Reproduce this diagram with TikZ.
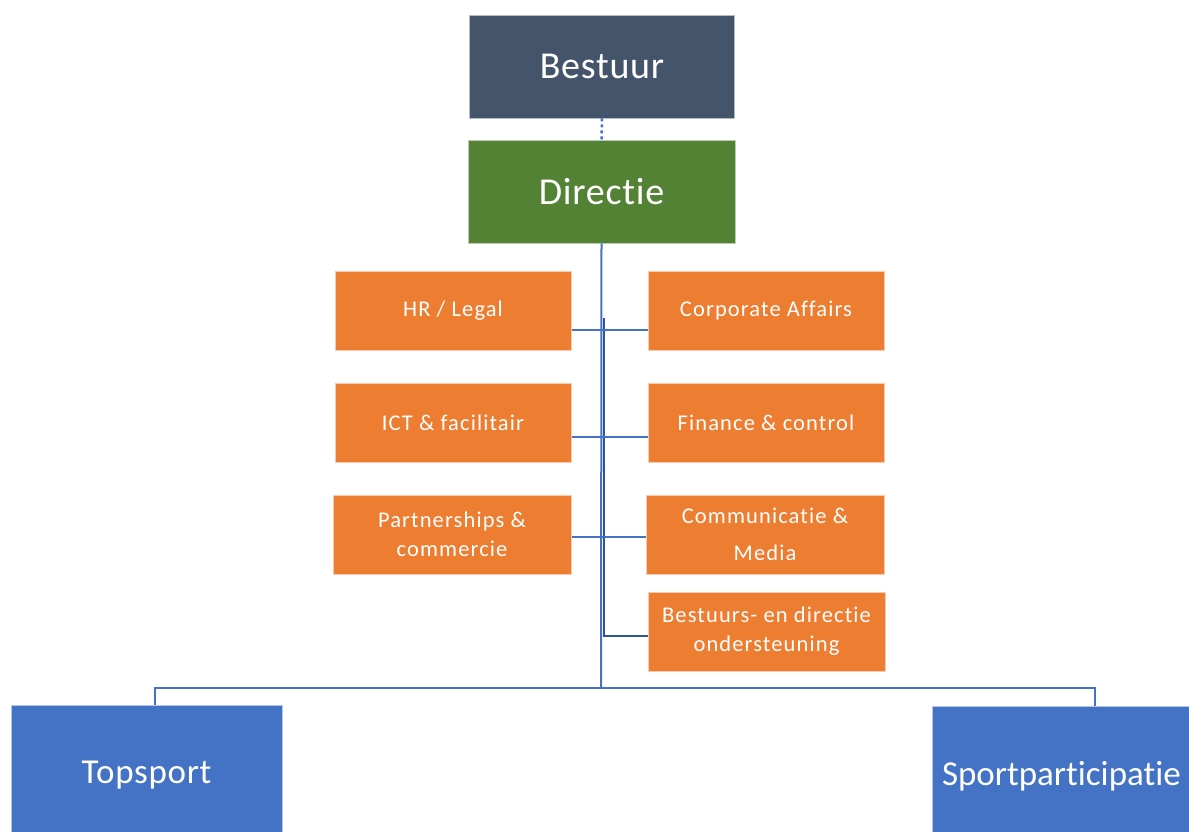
\documentclass[tikz,border=0pt]{standalone}
\usepackage{fontspec}
\setmainfont[Ligatures=NoCommon]{Carlito}
\newfontfamily\wide[Ligatures=NoCommon,LetterSpace=5]{Carlito}
\newfontfamily\widebig[Ligatures=NoCommon,LetterSpace=2]{Carlito}
\usetikzlibrary{calc}
\definecolor{slate}{HTML}{44546A}
\definecolor{grn}{HTML}{548235}
\definecolor{org}{HTML}{ED7D31}
\definecolor{blu}{HTML}{4472C4}
\definecolor{dblu}{HTML}{2F5597}
\definecolor{lne}{HTML}{4472C4}
\tikzset{
  box/.style={rectangle, draw=white!60!#1, line width=0.6pt, fill=#1, text=white, inner sep=0pt, align=center},
  topbox/.style={box=#1, minimum width=265pt, minimum height=103pt, font=\widebig\fontsize{38}{44}\selectfont},
  obox/.style={box=org, minimum width=236pt, minimum height=79pt, font=\wide\fontsize{22.5}{33}\selectfont},
  bbox/.style={box=blu, minimum height=140pt, font=\widebig\fontsize{35}{40}\selectfont},
  conn/.style={draw=lne, line width=1.3pt},
}
\begin{document}
\begin{tikzpicture}[x=1pt,y=-1pt]
\useasboundingbox (0,0) rectangle (1189,832);
\clip (0,0) rectangle (1189,832);
\node[topbox=slate] (bestuur) at (602,66.5) {Bestuur};
\node[topbox=grn, minimum width=267pt] (directie) at (601.5,191.5) {Directie};

\node[obox] (hr) at (453,310.5) {HR / Legal};
\node[obox] (ict) at (453,422.5) {ICT \& facilitair};
\node[obox, minimum width=238pt, font=\wide\fontsize{22.5}{29}\selectfont] (part) at (452,534.5) {Partnerships \&\\commercie};
\node[obox] (corp) at (766,310.5) {Corporate Affairs};
\node[obox] (fin) at (766,422.5) {Finance \& control};
\node[obox, minimum width=238pt, font=\wide\fontsize{22.5}{37}\selectfont] (comm) at (765,534.5) {Communicatie \&\\Media};
\node[obox, minimum width=237pt, font=\wide\fontsize{22.5}{29}\selectfont] (onder) at (766.5,631.5) {Bestuurs- en directie\\ondersteuning};

\node[bbox, minimum width=271pt] (top) at (146.5,775) {Topsport};
\node[bbox, minimum width=330pt, text width=310pt, align=left, inner xsep=10pt, font=\fontsize{35}{40}\selectfont] (sport) at (1097,776) {Sportparticipatie};

% connectors
\draw[draw=lne, line width=2.5pt, dash pattern=on 3pt off 3pt] (bestuur.south) -- (directie.north);
\coordinate (bend) at (601,688);
\draw[conn, line width=2pt] (directie.south) -- (bend);
\coordinate (tl) at (155,688);
\coordinate (tr) at (1095,688);
\draw[conn] (top.north -| tl) -- (tl) -- (tr) -- (sport.north -| tr);
\coordinate (s1) at (604,318);
\coordinate (s2) at (604,636);
\draw[draw=dblu, line width=2pt] (s1) -- (s2) -- (s2 -| onder.west);
\draw[conn] ($(hr.east)+(1,19.5)$) -- ($(corp.west)+(0,19.5)$);
\draw[conn] ($(ict.east)+(1,14.5)$) -- ($(fin.west)+(0,14.5)$);
\draw[conn] ($(part.east)+(1,2.5)$) -- ($(comm.west)+(0,2.5)$);
\end{tikzpicture}
\end{document}
